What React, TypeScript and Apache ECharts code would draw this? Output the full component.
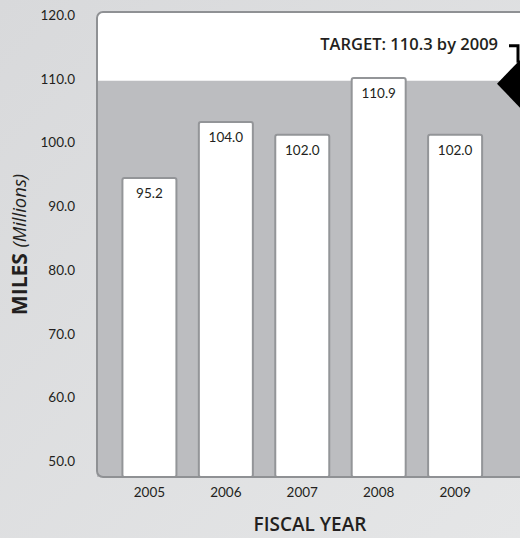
import React, { useEffect, useRef } from "react";
import * as echarts from "echarts";

const years = [2005, 2006, 2007, 2008, 2009];
const miles = [95.2, 104.0, 102.0, 110.9, 102.0];
const yTicks = [50, 60, 70, 80, 90, 100, 110, 120];
const target = 110.3;
const targetLabel = "TARGET: 110.3 by 2009";

const FONT = "Lato, 'Open Sans', sans-serif";
const WIDE = "'Open Sans', Lato, sans-serif";

export default function App() {
  const ref = useRef<HTMLDivElement>(null);
  useEffect(() => {
    document.body.style.margin = "0";
    const chart = echarts.init(ref.current!, null, { renderer: "svg" });
    const yMin = 48.1;
    const option: any = {
      animation: false,
      backgroundColor: {
        type: "linear", x: 0, y: 0, x2: 1, y2: 1,
        colorStops: [
          { offset: 0, color: "#d8d9db" },
          { offset: 1, color: "#e5e6e7" },
        ],
      },
      grid: { left: 97, top: 12, width: 440, height: 465, show: false },
      xAxis: {
        type: "value",
        min: 2004.314,
        max: 2009.849,
        axisLine: { show: false },
        axisTick: { show: false },
        splitLine: { show: false },
        axisLabel: {
          customValues: years,
          formatter: (v: number) => String(v),
          color: "#231f20",
          fontFamily: FONT,
          fontSize: 13.5,
          margin: 8,
        },
      },
      yAxis: {
        type: "value",
        min: yMin,
        max: 121.1,
        axisLine: { show: false },
        axisTick: { show: false },
        splitLine: { show: false },
        axisLabel: {
          customValues: yTicks,
          formatter: (v: number) => v.toFixed(1),
          color: "#231f20",
          fontFamily: FONT,
          fontSize: 13.5,
          margin: 22,
          verticalAlign: "bottom",
          lineHeight: 8,
        },
        name: "{a|MILES} {b|(Millions)}",
        nameLocation: "middle",
        nameGap: 68,
        nameTextStyle: {
          fontSize: 20,
          rich: {
            a: { fontFamily: WIDE, fontWeight: "bold", fontSize: 21, color: "#231f20" },
            b: { fontFamily: WIDE, fontStyle: "italic", fontSize: 18.5, color: "#231f20" },
          },
        },
      },
      series: [
        {
          type: "bar",
          barWidth: 56,
          data: years.map((y, i) => [y, miles[i]]),
          itemStyle: { color: "#ffffff", borderColor: "#939598", borderWidth: 2, borderRadius: 2 },
          label: {
            show: true,
            position: "insideTop",
            distance: 9,
            formatter: (p: any) => p.value[1].toFixed(1),
            color: "#231f20",
            fontFamily: FONT,
            fontSize: 13.5,
          },
          markArea: {
            silent: true,
            itemStyle: { color: "#bcbdc0" },
            data: [[{ yAxis: yMin }, { yAxis: target }]],
          },
          z: 3,
        },
      ],
    };
    chart.setOption(option);
    const p = chart.convertToPixel({ gridIndex: 0 }, [2004.314, target]) as number[];
    const ty = p[1];
    chart.setOption({
      graphic: [
        {
          type: "rect",
          z: -1,
          silent: true,
          shape: { x: 97, y: 12, width: 450, height: 465, r: 6 },
          style: { fill: "#ffffff", stroke: null },
        },
        {
          type: "rect",
          z: 100,
          silent: true,
          shape: { x: 97, y: 12, width: 450, height: 465, r: 6 },
          style: { fill: null, stroke: "#8f9194", lineWidth: 2 },
        },
        {
          type: "text",
          z: 100,
          x: 498,
          y: ty - 37,
          style: {
            text: targetLabel,
            align: "right",
            verticalAlign: "middle",
            fontFamily: WIDE,
            fontWeight: 600,
            fontSize: 16.5,
            fill: "#231f20",
          },
        },
        {
          type: "polyline",
          z: 100,
          shape: { points: [[509, ty - 35], [518, ty - 35], [518, ty - 18]] },
          style: { stroke: "#000", lineWidth: 3, fill: null },
        },
        {
          type: "polygon",
          z: 100,
          shape: { points: [[497, ty + 3], [523, ty - 24], [523, ty + 30]] },
          style: { fill: "#000" },
        },
        {
          type: "text",
          z: 100,
          x: 310,
          y: 524,
          style: {
            text: "FISCAL YEAR",
            align: "center",
            verticalAlign: "middle",
            fontFamily: WIDE,
            fontWeight: 600,
            fontSize: 19,
            fill: "#231f20",
          },
        },
      ],
    });
    return () => chart.dispose();
  }, []);
  return <div ref={ref} style={{ width: 520, height: 538 }} />;
}
